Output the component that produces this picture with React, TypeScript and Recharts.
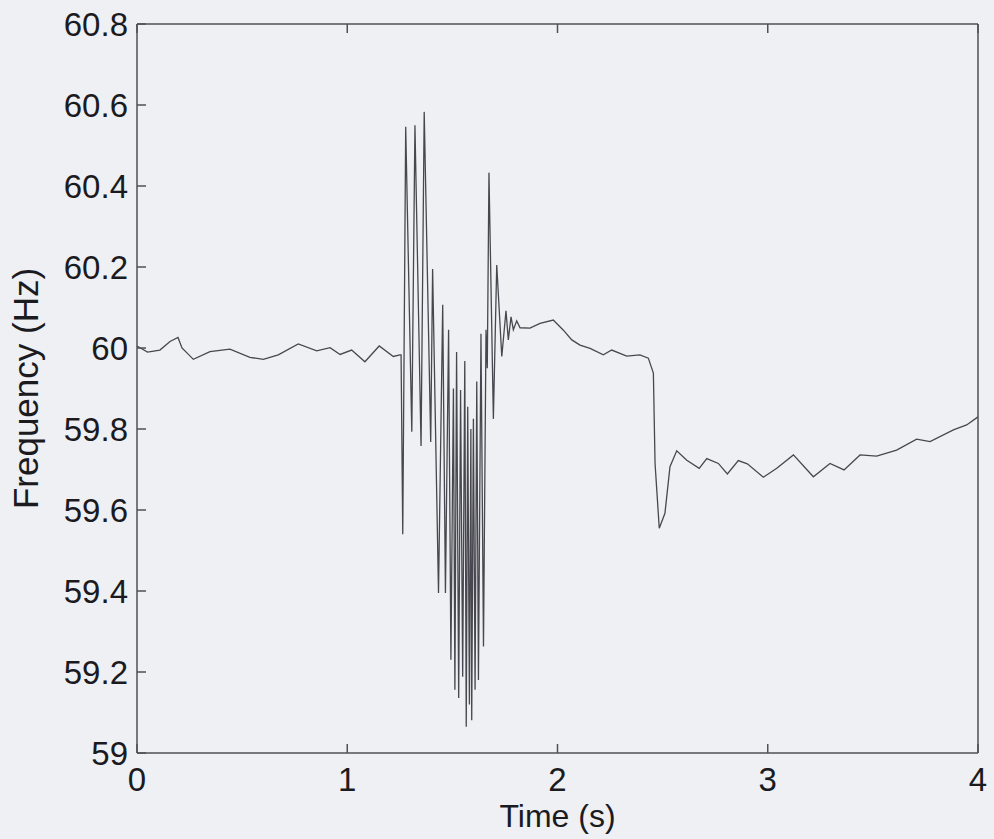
import React from "react";
import { LineChart, Line, XAxis, YAxis } from "recharts";

// Time (s)
const times: number[] = [
  0, 0.05, 0.109, 0.157, 0.195, 0.214, 0.268, 0.347, 0.442, 0.537, 0.601, 0.672, 0.767, 0.855, 0.918, 0.966,
  1.021, 1.084, 1.152, 1.219, 1.251, 1.256, 1.264, 1.278, 1.307, 1.322, 1.351, 1.366, 1.397, 1.406,
  1.434, 1.454, 1.467, 1.482, 1.493, 1.505, 1.512, 1.52, 1.53, 1.539, 1.549, 1.559, 1.566, 1.573,
  1.581, 1.588, 1.592, 1.6, 1.608, 1.616, 1.624, 1.636, 1.648, 1.66, 1.666, 1.674, 1.695, 1.711,
  1.735, 1.755, 1.766, 1.779, 1.79, 1.806, 1.822, 1.869, 1.917, 1.98, 2.028, 2.068, 2.107, 2.155,
  2.218, 2.258, 2.329, 2.392, 2.432, 2.456, 2.464, 2.484, 2.511, 2.535, 2.567, 2.615, 2.674, 2.71,
  2.765, 2.808, 2.86, 2.903, 2.979, 3.043, 3.122, 3.217, 3.296, 3.363, 3.439, 3.518, 3.613, 3.708,
  3.772, 3.883, 3.946, 4.0,
];

// Frequency (Hz)
const frequency: number[] = [
  60.005, 59.99, 59.995, 60.016, 60.026, 60.0, 59.972, 59.991, 59.997, 59.977, 59.972, 59.983, 60.01, 59.993, 60.001, 59.984,
  59.995, 59.966, 60.005, 59.979, 59.983, 59.983, 59.54, 60.546, 59.793, 60.55, 59.758, 60.583, 59.768, 60.195,
  59.395, 60.107, 59.395, 60.045, 59.23, 59.9, 59.156, 59.99, 59.136, 59.896, 59.188, 59.968, 59.065, 59.855,
  59.12, 59.8, 59.081, 59.825, 59.156, 59.917, 59.18, 60.035, 59.263, 60.045, 59.95, 60.433, 59.825, 60.205,
  59.979, 60.092, 60.02, 60.077, 60.045, 60.067, 60.05, 60.049, 60.061, 60.069, 60.044, 60.02, 60.007, 59.999,
  59.983, 59.995, 59.98, 59.983, 59.975, 59.938, 59.715, 59.555, 59.592, 59.707, 59.746, 59.723, 59.703, 59.727,
  59.715, 59.689, 59.722, 59.714, 59.681, 59.703, 59.736, 59.682, 59.715, 59.699, 59.736, 59.733, 59.748, 59.775,
  59.769, 59.798, 59.81, 59.83,
];

const xTicks: number[] = [0, 1, 2, 3, 4];
const yTicks: number[] = [59, 59.2, 59.4, 59.6, 59.8, 60, 60.2, 60.4, 60.6, 60.8];

const data = times.map((t, i) => ({ t, f: frequency[i] }));

const FONT = "'Liberation Sans', Arial, Helvetica, sans-serif";
const AX = "#505055";
const tickStyle = { fontSize: 33, fill: "#1b1b1f", fontFamily: FONT };
const fmt = (v: number) => String(Number(v.toFixed(1)));

export default function App() {
  return (
    <div style={{ position: "absolute", left: 0, top: 0, width: 994, height: 839, background: "#eef0f3" }}>
      <LineChart width={994} height={839} data={data} margin={{ top: 0, right: 0, bottom: 0, left: 0 }}>
        <XAxis
          dataKey="t"
          type="number"
          domain={[0, 4]}
          ticks={xTicks}
          tickFormatter={fmt}
          height={86}
          stroke={AX}
          strokeWidth={1.5}
          tickSize={-9}
          tickMargin={24}
          tick={tickStyle}
          label={{ value: "Time (s)", position: "insideBottom", offset: 12, style: { ...tickStyle, fontSize: 32, textAnchor: "middle" } }}
        />
        <XAxis
          xAxisId="top"
          orientation="top"
          dataKey="t"
          type="number"
          domain={[0, 4]}
          ticks={xTicks}
          tickFormatter={() => ""}
          height={24}
          stroke={AX}
          strokeWidth={1.5}
          tickSize={-9}
        />
        <YAxis
          type="number"
          domain={[59, 60.8]}
          ticks={yTicks}
          tickFormatter={fmt}
          width={137}
          stroke={AX}
          strokeWidth={1.5}
          tickSize={-9}
          tickMargin={18}
          tick={tickStyle}
          label={{ value: "Frequency (Hz)", angle: -90, position: "insideLeft", offset: 26, style: { ...tickStyle, fontSize: 35, textAnchor: "middle" } }}
        />
        <YAxis
          yAxisId="right"
          orientation="right"
          type="number"
          domain={[59, 60.8]}
          ticks={yTicks}
          tickFormatter={() => ""}
          width={16}
          stroke={AX}
          strokeWidth={1.5}
          tickSize={-9}
        />
        <Line
          dataKey="f"
          type="linear"
          dot={false}
          stroke="#48474f"
          strokeWidth={1.3}
          isAnimationActive={false}
        />
      </LineChart>
    </div>
  );
}
